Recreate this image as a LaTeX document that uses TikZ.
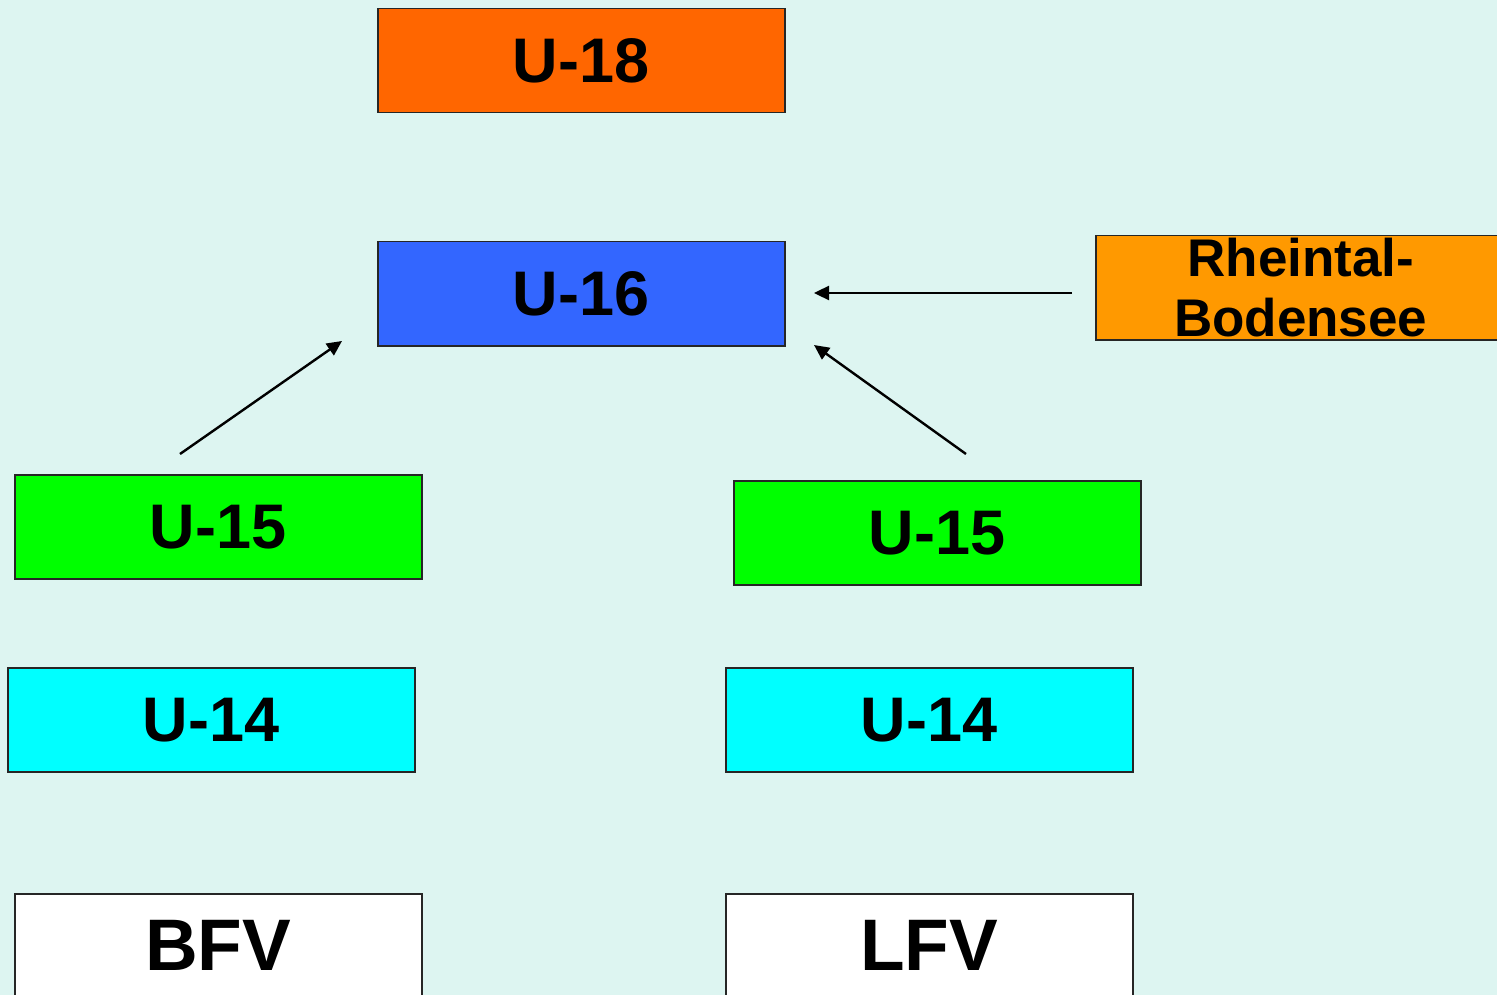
\documentclass[tikz,border=0pt]{standalone}
\usepackage{fontspec}
\setmainfont{Liberation Sans}
\usetikzlibrary{arrows.meta}
\definecolor{bg}{HTML}{DDF5F1}
\definecolor{c18}{HTML}{FF6600}
\definecolor{c16}{HTML}{3366FF}
\definecolor{crb}{HTML}{FF9900}
\definecolor{c15}{HTML}{00FF00}
\definecolor{c14}{HTML}{00FFFF}
\tikzset{
  box/.style={draw=black!85, line width=1.5pt, minimum width=407pt, minimum height=104pt, inner sep=0pt, anchor=north west, font=\fontsize{63}{66}\selectfont\bfseries},
  big/.style={font=\fontsize{73}{76}\selectfont\bfseries},
  arr/.style={line width=2.4pt, -{Triangle[length=15pt,width=14pt]}}
}
\begin{document}
\begin{tikzpicture}[x=1pt,y=-1pt]
\useasboundingbox (0,0) rectangle (1497,995);
\fill[bg] (0,0) rectangle (1497,995);
\clip (0,0) rectangle (1497,995);
\node[box, fill=c18] (u18) at (377,8) {U-18};
\node[box, fill=c16] (u16) at (377,241) {U-16};
\node[box, fill=crb, minimum width=410pt, align=center, font=\fontsize{53}{60}\selectfont\bfseries] (rb) at (1095,235) {Rheintal-\\Bodensee};
\node[box, fill=c15] (u15l) at (14,474) {U-15};
\node[box, fill=c15] (u15r) at (733,480) {U-15};
\node[box, fill=c14] (u14l) at (7,667) {U-14};
\node[box, fill=c14] (u14r) at (725,667) {U-14};
\node[box, fill=white, big] (bfv) at (14,893) {BFV};
\node[box, fill=white, big] (lfv) at (725,893) {LFV};
\coordinate (a1s) at (180,454);
\coordinate (a1e) at (342,341);
\coordinate (a2s) at (1072,293);
\coordinate (a2e) at (814,293);
\coordinate (a3s) at (966,454);
\coordinate (a3e) at (814,345);
\draw[arr] (a1s) -- (a1e);
\draw[arr] (a2s) -- (a2e);
\draw[arr] (a3s) -- (a3e);
\end{tikzpicture}
\end{document}
